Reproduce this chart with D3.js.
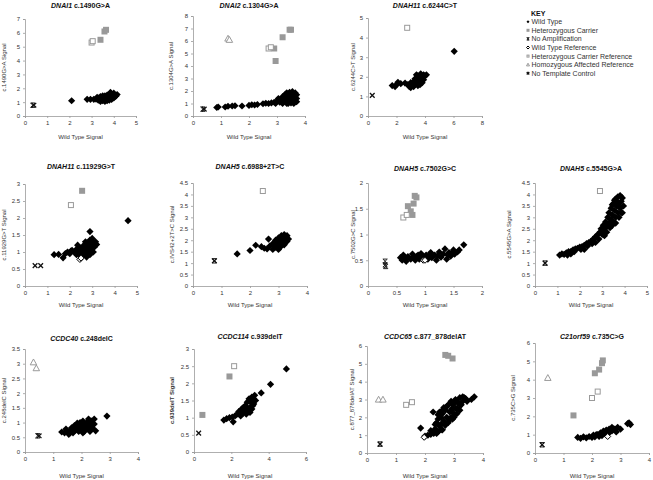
<!DOCTYPE html>
<html>
<head>
<meta charset="utf-8">
<script src="https://cdn.jsdelivr.net/npm/d3@7"></script>
<style>
  body { margin: 0; background: #fff; }
  svg { font-family: "Liberation Sans", Arial, sans-serif; }
</style>
</head>
<body>
<div id="chart"></div>
<script>

// ---- tick values ----
var ticks_0_5 = [0, 1, 2, 3, 4, 5];
var ticks_0_4 = [0, 1, 2, 3, 4];
var ticks_0_8_by2 = [0, 2, 4, 6, 8];
var ticks_0_6_by2 = [0, 2, 4, 6];
var ticks_0_2_half = [0, 0.5, 1, 1.5, 2];
var ticks_0_3_half = [0, 0.5, 1, 1.5, 2, 2.5, 3];
var ticks_0_35_half = [0, 0.5, 1, 1.5, 2, 2.5, 3, 3.5];
var ticks_0_45_half = [0, 0.5, 1, 1.5, 2, 2.5, 3, 3.5, 4, 4.5];
var ticks_0_6 = [0, 1, 2, 3, 4, 5, 6];
var ticks_0_7 = [0, 1, 2, 3, 4, 5, 6, 7];
var ticks_0_8 = [0, 1, 2, 3, 4, 5, 6, 7, 8];

var legend_labels = ['Wild Type', 'Heterozygous Carrier', 'No Amplification', 'Wild Type Reference',
                     'Heterozygous Carrier Reference', 'Homozygous Affected Reference', 'No Template Control'];
var legend_keys = ['wt', 'het', 'noAmp', 'wtRef', 'hetRef', 'homRef', 'ntc'];

// ---- DNAI1 c.1490G>A ----
var dnai1_wt = [[2.1,1.1],[2.8,1.2],[2.95,1.2],[3.1,1.2],[3.2,1.22],[3.3,1.15],[3.3,1.3],[3.4,1.05],[3.4,1.25],[3.4,1.4],
  [3.5,1.1],[3.5,1.3],[3.5,1.45],[3.6,1.05],[3.6,1.25],[3.6,1.45],[3.7,1.1],[3.7,1.3],[3.7,1.5],[3.8,1.15],[3.8,1.35],
  [3.8,1.55],[3.85,1.7],[3.9,1.2],[3.9,1.4],[3.9,1.6],[4.0,1.3],[4.0,1.5],[4.0,1.65],[4.1,1.45],[4.15,1.55],
  [3.45,1.35],[3.55,1.2],[3.65,1.38],[3.75,1.22],[3.75,1.45],[3.95,1.3],[3.95,1.5],[4.05,1.4],[3.25,1.35],[3.35,1.2]];
var dnai1_het = [[3.4,5.5],[3.58,6.1],[3.65,6.22]];
var dnai1_hetRef = [[3.0,5.3],[3.05,5.4]];
var dnai1_noAmp = [[0.35,0.78]];
var dnai1_ntc = [[0.4,0.78]];

// ---- DNAI2 c.1304G>A ----
var dnai2_wt = [[0.85,0.68],[0.9,0.72],[1.15,0.72],[1.25,0.78],[1.4,0.8],[1.5,0.82],[1.75,0.8],[2.0,0.85],[2.1,0.9],
  [2.2,0.88],[2.3,0.92],[2.5,0.98],[2.6,1.02],[2.7,1.0],[2.8,1.05],[2.9,1.1],[2.95,1.0],[3.0,1.2],[3.05,1.4],[3.1,1.1],
  [3.15,1.3],[3.2,1.55],[3.2,1.0],[3.25,1.2],[3.3,1.4],[3.3,1.75],[3.35,1.0],[3.4,1.2],[3.4,1.6],[3.45,1.9],[3.5,1.05],
  [3.5,1.4],[3.55,1.7],[3.55,1.95],[3.6,1.2],[3.6,1.5],[3.65,1.85],[3.7,1.4],[3.7,1.7],
  [3.25,1.55],[3.35,1.85],[3.45,1.35],[3.45,1.65],[3.6,1.0],[3.65,1.6],[3.7,1.15],[3.4,1.0]];
var dnai2_het = [[2.9,5.4],[2.95,4.4],[3.2,6.3],[3.45,6.9],[3.5,6.9]];
var dnai2_hetRef = [[2.7,5.4],[2.78,5.5]];
var dnai2_homRef = [[1.25,6.2],[1.3,6.1]];
var dnai2_noAmp = [[0.35,0.55]];
var dnai2_ntc = [[0.4,0.55]];

// ---- DNAH11 c.6244C>T ----
var dnah11a_wt = [[1.7,1.55],[1.9,1.5],[2.0,1.6],[2.1,1.72],[2.3,1.65],[2.6,1.68],[2.8,1.6],[2.9,1.5],[3.0,1.45],
  [3.0,1.7],[3.1,1.55],[3.2,1.75],[3.2,1.5],[3.3,1.9],[3.3,1.6],[3.4,2.1],[3.4,1.7],[3.5,1.55],[3.5,1.85],[3.6,2.0],
  [3.6,1.7],[3.7,2.15],[3.7,1.85],[3.8,1.95],[3.8,1.7],[3.9,2.1],[4.0,2.05],[4.1,2.1],[6.05,3.3],
  [3.5,2.05],[3.65,1.6],[3.9,1.85],[3.35,1.8],[3.75,2.05]];
var dnah11a_hetRef = [[2.75,4.5]];
var dnah11a_ntc = [[0.3,1.05]];

// ---- DNAH11 c.11929G>T ----
var dnah11b_wt = [[1.3,0.92],[1.5,0.93],[1.7,0.83],[1.8,0.95],[1.9,1.0],[2.0,0.95],[2.05,1.03],[2.1,1.05],[2.2,1.0],
  [2.3,0.92],[2.3,1.08],[2.35,1.2],[2.4,1.0],[2.45,1.12],[2.5,0.88],[2.55,1.05],[2.55,0.95],[2.6,1.18],[2.65,0.95],
  [2.7,1.1],[2.7,1.3],[2.75,0.85],[2.8,1.25],[2.8,1.0],[2.85,1.15],[2.9,1.35],[2.9,0.92],[2.95,1.08],[3.0,1.25],
  [3.0,1.4],[3.05,1.0],[3.1,1.15],[3.15,1.3],[3.2,1.22],[2.9,1.6],[4.6,1.92],
  [2.6,1.05],[2.75,1.2],[2.95,1.2],[3.05,1.3],[2.85,0.95],[2.4,1.12]];
var dnah11b_wtRef = [[2.45,0.78],[2.5,0.82]];
var dnah11b_het = [[2.55,2.8]];
var dnah11b_hetRef = [[2.05,2.38]];
var dnah11b_ntc = [[0.45,0.6],[0.7,0.6]];

// ---- DNAH5 c.6988+2T>C ----
var dnah5a_wt = [[1.55,1.4],[2.0,1.55],[2.2,1.78],[2.4,1.72],[2.5,1.65],[2.6,1.62],[2.65,2.05],[2.7,1.75],[2.8,1.6],
  [2.8,1.85],[2.9,1.7],[2.9,2.0],[3.0,1.6],[3.0,1.85],[3.0,2.1],[3.1,1.75],[3.1,2.0],[3.1,2.2],[3.2,1.8],[3.2,2.05],
  [3.2,2.25],[3.3,1.95],[3.3,2.2],[3.35,2.05],[2.95,1.95],[3.05,1.7],[3.15,1.9],[3.25,2.15],[2.85,1.75]];
var dnah5a_hetRef = [[2.45,4.15]];
var dnah5a_noAmp = [[0.75,1.1]];
var dnah5a_ntc = [[0.75,1.1]];

// ---- DNAH5 c.7502G>C ----
var dnah5b_wt = [[0.57,0.55],[0.6,0.5],[0.62,0.6],[0.67,0.48],[0.7,0.57],[0.75,0.52],[0.78,0.62],[0.83,0.5],[0.86,0.58],
  [0.9,0.52],[0.93,0.63],[0.97,0.57],[1.02,0.6],[1.05,0.52],[1.1,0.65],[1.12,0.55],[1.17,0.6],[1.2,0.5],[1.25,0.66],
  [1.28,0.56],[1.32,0.62],[1.35,0.72],[1.38,0.52],[1.42,0.65],[1.45,0.58],[1.5,0.7],[1.52,0.62],[1.57,0.66],[1.6,0.7],
  [1.68,0.8],[0.65,0.55],[0.8,0.56],[0.88,0.6],[1.07,0.58],[1.22,0.58],[1.4,0.6],[1.48,0.65]];
var dnah5b_wtRef = [[0.97,0.5],[1.0,0.5]];
var dnah5b_het = [[0.7,1.55],[0.75,1.45],[0.78,1.38],[0.8,1.6],[0.82,1.75],[0.85,1.72]];
var dnah5b_hetRef = [[0.62,1.33],[0.68,1.38]];
var dnah5b_noAmp = [[0.3,0.48],[0.3,0.41],[0.31,0.38]];

// ---- DNAH5 c.5545G>A ----
var dnah5c_wt = [[1.1,1.35],[1.2,1.4],[1.3,1.38],[1.4,1.45],[1.5,1.5],[1.6,1.5],[1.6,1.4],[1.7,1.58],[1.8,1.62],
  [1.9,1.65],[2.0,1.7],[2.1,1.72],[2.2,1.78],[2.2,1.6],[2.3,1.85],[2.4,1.9],[2.5,1.95],[2.6,2.05],[2.7,2.15],
  [2.7,1.9],[2.8,2.25],[2.9,2.35],[2.95,2.5],[3.0,2.4],[3.05,2.65],[3.1,2.5],[3.1,2.2],[3.15,2.8],[3.2,2.6],
  [3.25,3.0],[3.3,2.75],[3.3,3.2],[3.4,2.9],[3.4,3.4],[3.45,3.1],[3.5,3.6],[3.5,2.8],[3.55,3.3],[3.6,3.8],[3.6,3.0],
  [3.65,3.5],[3.7,3.9],[3.7,3.2],[3.75,3.6],[3.8,3.95],[3.8,3.4],[3.85,3.7],[3.9,3.85],[3.95,3.5],[3.9,3.2],
  [1.45,1.35],[1.75,1.5],[2.05,1.6],[2.35,1.75],[2.55,1.85],[2.85,2.05],[3.0,2.25],[3.2,2.35],[3.35,2.55],
  [3.45,2.65],[3.6,2.75],[3.75,3.0],[3.85,3.2],[3.65,3.7],[3.55,3.75],[3.45,3.55]];
var dnah5c_hetRef = [[2.9,4.15]];
var dnah5c_noAmp = [[0.45,1.0]];
var dnah5c_ntc = [[0.45,1.0]];

// ---- CCDC40 c.248delC ----
var ccdc40_wt = [[1.3,0.68],[1.4,0.65],[1.45,0.78],[1.5,0.68],[1.55,0.6],[1.6,0.72],[1.65,0.82],[1.7,0.65],[1.75,0.9],
  [1.8,0.75],[1.85,0.98],[1.9,0.7],[1.9,0.85],[2.0,0.78],[2.0,0.95],[2.05,1.05],[2.1,0.7],[2.1,0.88],[2.2,0.8],
  [2.2,1.0],[2.25,1.12],[2.3,0.7],[2.3,0.9],[2.35,1.05],[2.4,0.8],[2.45,0.95],[2.45,1.12],[2.5,0.72],[2.9,1.22],
  [1.75,0.72],[1.95,1.0],[2.15,0.95],[2.35,0.78],[2.05,0.65],[1.6,0.65]];
var ccdc40_homRef = [[0.3,3.05],[0.4,2.85]];
var ccdc40_noAmp = [[0.45,0.55]];
var ccdc40_ntc = [[0.5,0.55]];

// ---- CCDC114 c.939delT ----
var ccdc114_wt = [[1.6,0.93],[1.75,0.97],[1.9,1.0],[2.05,1.02],[2.1,0.88],[2.3,1.1],[2.4,1.18],[2.5,1.05],[2.55,1.25],
  [2.6,1.12],[2.7,1.2],[2.75,1.35],[2.8,1.1],[2.85,1.45],[2.9,1.25],[2.95,1.55],[3.0,1.3],[3.0,1.15],[3.05,1.45],
  [3.1,1.6],[3.1,1.25],[3.2,1.4],[3.2,1.55],[3.25,1.65],[3.3,1.5],[3.6,1.72],[4.1,1.97],[4.95,2.42],
  [2.65,1.3],[2.85,1.2],[3.0,1.5],[3.15,1.35],[2.2,1.05]];
var ccdc114_het = [[0.45,1.08],[1.9,2.2]];
var ccdc114_hetRef = [[2.15,2.5]];
var ccdc114_ntc = [[0.25,0.55]];

// ---- CCDC65 c.877_878delAT ----
var ccdc65_wt = [[1.85,1.4],[2.0,0.95],[2.1,1.0],[2.2,1.05],[2.28,2.3],[2.3,1.1],[2.35,1.35],[2.4,1.7],[2.45,1.2],
  [2.5,2.3],[2.5,1.5],[2.55,2.0],[2.6,1.3],[2.65,1.8],[2.7,2.4],[2.8,2.7],[2.8,1.7],[2.85,2.3],[2.9,2.0],[2.9,2.9],
  [2.95,2.5],[3.0,2.2],[3.0,2.8],[3.05,3.0],[3.1,2.5],[3.15,2.8],[3.2,3.1],[3.2,2.4],[3.3,2.9],[3.35,3.1],[3.45,2.9],
  [3.6,3.0],[3.7,3.15],[2.6,2.2],[2.75,2.0],[2.95,2.7],[3.1,2.9],[3.1,2.2],[3.25,2.7],[2.7,1.55],[2.85,1.85],
  [3.0,2.0],[2.55,1.6],[2.4,1.1],[2.65,2.55],[3.4,3.05],[2.45,1.9],[2.6,2.4],[2.35,1.6],[2.55,1.3],[2.75,2.6],
  [2.9,2.4],[3.05,2.5],[3.2,2.7],[3.3,3.15],[2.95,1.9],[2.2,1.25],[2.45,2.15]];
var ccdc65_wtRef = [[1.97,0.88]];
var ccdc65_het = [[2.7,5.5],[2.8,5.45],[2.95,5.3]];
var ccdc65_hetRef = [[1.35,2.7],[1.55,2.85]];
var ccdc65_homRef = [[0.4,3.0],[0.55,3.0]];
var ccdc65_noAmp = [[0.45,0.5]];
var ccdc65_ntc = [[0.45,0.5]];

// ---- C21orf59 c.735C>G ----
var c21_wt = [[1.5,0.85],[1.6,0.8],[1.7,0.88],[1.8,0.82],[1.9,0.9],[2.0,0.85],[2.05,0.98],[2.1,0.88],[2.2,1.0],
  [2.25,0.9],[2.3,1.1],[2.35,0.95],[2.4,1.2],[2.45,1.05],[2.5,1.25],[2.6,1.1],[2.6,1.3],[2.7,1.2],[2.7,1.4],
  [2.8,1.3],[2.85,1.15],[2.9,1.4],[3.0,1.3],[3.25,1.6],[3.3,1.65],[3.35,1.55],[2.15,1.0],[2.55,1.15],[2.75,1.3]];
var c21_wtRef = [[2.55,0.9]];
var c21_het = [[1.35,2.05],[2.1,4.35],[2.25,4.55],[2.35,4.9],[2.38,5.05]];
var c21_hetRef = [[2.0,3.0],[2.2,3.35]];
var c21_homRef = [[0.45,4.1]];
var c21_noAmp = [[0.25,0.45]];
var c21_ntc = [[0.25,0.45]];

// ---- panel layout ----
var panels = [
  { gene: 'DNAI1', mut: ' c.1490G>A', ylab: 'c.1490G>A  Signal', box: [25, 136, 19, 116], xdom: [0, 5], xt: ticks_0_5, ydom: [0, 7], yt: ticks_0_7, ylx: 4, ty: 7.5, xly: 139,
    data: { wt: dnai1_wt, het: dnai1_het, hetRef: dnai1_hetRef, noAmp: dnai1_noAmp, ntc: dnai1_ntc } },
  { gene: 'DNAI2', mut: ' c.1304G>A', ylab: 'c.1304G>A Signal', box: [193, 305, 16, 116], xdom: [0, 4], xt: ticks_0_4, ydom: [0, 8], yt: ticks_0_8, ylx: 171, ty: 7.5, xly: 139,
    data: { wt: dnai2_wt, het: dnai2_het, hetRef: dnai2_hetRef, homRef: dnai2_homRef, noAmp: dnai2_noAmp, ntc: dnai2_ntc } },
  { gene: 'DNAH11', mut: ' c.6244C>T', ylab: 'c.6244C>T  Signal', box: [368, 482, 18, 116], xdom: [0, 8], xt: ticks_0_8_by2, ydom: [0, 5], yt: ticks_0_5, ylx: 353, ty: 7.5, xly: 139,
    data: { wt: dnah11a_wt, hetRef: dnah11a_hetRef, ntc: dnah11a_ntc } },
  { gene: 'DNAH11', mut: ' c.11929G>T', ylab: 'c.11929G>T Signal', box: [25, 137, 184, 286], xdom: [0, 5], xt: ticks_0_5, ydom: [0, 3], yt: ticks_0_3_half, ylx: 4, ty: 168.5, xly: 307,
    data: { wt: dnah11b_wt, wtRef: dnah11b_wtRef, het: dnah11b_het, hetRef: dnah11b_hetRef, ntc: dnah11b_ntc } },
  { gene: 'DNAH5', mut: ' c.6988+2T>C', ylab: 'c.IVS42+2T>C Signal', box: [193, 307, 183, 286], xdom: [0, 4], xt: ticks_0_4, ydom: [0, 4.5], yt: ticks_0_45_half, ylx: 172, ty: 168.5, xly: 307,
    data: { wt: dnah5a_wt, hetRef: dnah5a_hetRef, noAmp: dnah5a_noAmp, ntc: dnah5a_ntc } },
  { gene: 'DNAH5', mut: ' c.7502G>C', ylab: 'c.7502G>C Signal', box: [368, 482, 183, 286], xdom: [0, 2], xt: ticks_0_2_half, ydom: [0, 2], yt: ticks_0_2_half, ylx: 353, ty: 170.5, xly: 307,
    data: { wt: dnah5b_wt, wtRef: dnah5b_wtRef, het: dnah5b_het, hetRef: dnah5b_hetRef, noAmp: dnah5b_noAmp } },
  { gene: 'DNAH5', mut: ' c.5545G>A', ylab: 'c.5545G>A Signal', box: [535, 647, 183, 286], xdom: [0, 5], xt: ticks_0_5, ydom: [0, 4.5], yt: ticks_0_45_half, ylx: 509, ty: 170.5, xly: 307,
    data: { wt: dnah5c_wt, hetRef: dnah5c_hetRef, noAmp: dnah5c_noAmp, ntc: dnah5c_ntc } },
  { gene: 'CCDC40', mut: ' c.248delC', ylab: 'c.248delC Signal', box: [25, 138, 349, 452], xdom: [0, 4], xt: ticks_0_4, ydom: [0, 3.5], yt: ticks_0_35_half, ylx: 4, ty: 340.5, xly: 478,
    data: { wt: ccdc40_wt, homRef: ccdc40_homRef, noAmp: ccdc40_noAmp, ntc: ccdc40_ntc } },
  { gene: 'CCDC114', mut: ' c.939delT', ylab: 'c.939delT Signal', box: [194, 306, 349, 452], xdom: [0, 6], xt: ticks_0_6_by2, ydom: [0, 3], yt: ticks_0_3_half, ylx: 172, ty: 338.5, xly: 478, boldYlab: true,
    data: { wt: ccdc114_wt, het: ccdc114_het, hetRef: ccdc114_hetRef, ntc: ccdc114_ntc } },
  { gene: 'CCDC65', mut: ' c.877_878delAT', ylab: 'c.877_878delAT Signal', box: [367, 483, 346, 453], xdom: [0, 4], xt: ticks_0_4, ydom: [0, 6], yt: ticks_0_6, ylx: 352, ty: 338.5, xly: 478,
    data: { wt: ccdc65_wt, wtRef: ccdc65_wtRef, het: ccdc65_het, hetRef: ccdc65_hetRef, homRef: ccdc65_homRef, noAmp: ccdc65_noAmp, ntc: ccdc65_ntc } },
  { gene: 'C21orf59', mut: ' c.735C>G', ylab: 'c.735C>G Signal', box: [535, 649, 343, 453], xdom: [0, 4], xt: ticks_0_4, ydom: [0, 6], yt: ticks_0_6, ylx: 513, ty: 338.5, xly: 478,
    data: { wt: c21_wt, wtRef: c21_wtRef, het: c21_het, hetRef: c21_hetRef, homRef: c21_homRef, noAmp: c21_noAmp, ntc: c21_ntc } }
];

var w = 653;
var h = 480;
var AXIS_COL = '#9a9a9a';
var TEXT_COL = '#333';
var REF_COL = '#9a9a9a';

var svg = d3.select('#chart')
            .append('svg')
            .attr('width', w)
            .attr('height', h);

// draws one marker of the given kind into g, size s
function draw_marker(g, kind, s) {
    var r = s / 2;
    if (kind == 'wt') {
        g.append('path').attr('d', 'M0,' + (-r) + 'L' + r + ',0L0,' + r + 'L' + (-r) + ',0Z').attr('fill', '#000');
    }
    if (kind == 'wtRef') {
        g.append('path').attr('d', 'M0,' + (-r) + 'L' + r + ',0L0,' + r + 'L' + (-r) + ',0Z')
            .attr('fill', '#fff').attr('stroke', '#000').attr('stroke-width', 1);
    }
    if (kind == 'het') {
        g.append('rect').attr('x', -r).attr('y', -r).attr('width', s).attr('height', s).attr('fill', '#999');
    }
    if (kind == 'hetRef') {
        g.append('rect').attr('x', -r + 0.5).attr('y', -r + 0.5).attr('width', s - 1).attr('height', s - 1)
            .attr('fill', '#fff').attr('stroke', REF_COL).attr('stroke-width', 1);
    }
    if (kind == 'homRef') {
        g.append('path').attr('d', 'M0,' + (-r) + 'L' + r + ',' + (r * 0.8) + 'L' + (-r) + ',' + (r * 0.8) + 'Z')
            .attr('fill', '#fff').attr('stroke', REF_COL).attr('stroke-width', 1);
    }
    if (kind == 'noAmp') {
        var a = r * 0.8;
        g.append('path').attr('d', 'M' + (-a) + ',' + (-a) + 'L' + a + ',' + a + 'M' + a + ',' + (-a) + 'L' + (-a) + ',' + a +
                              'M' + (-a) + ',' + (-a) + 'L' + a + ',' + (-a) + 'M' + (-a) + ',' + a + 'L' + a + ',' + a)
            .attr('stroke', '#222').attr('stroke-width', 1).attr('fill', 'none');
    }
    if (kind == 'ntc') {
        var b = r * 0.85;
        g.append('path').attr('d', 'M' + (-b) + ',' + (-b) + 'L' + b + ',' + b + 'M' + b + ',' + (-b) + 'L' + (-b) + ',' + b)
            .attr('stroke', '#111').attr('stroke-width', 1.3).attr('fill', 'none');
    }
}

var draw_order = ['wt', 'wtRef', 'het', 'hetRef', 'homRef', 'noAmp', 'ntc'];
var marker_size = { wt: 7.2, wtRef: 6, het: 6, hetRef: 6, homRef: 6.5, noAmp: 5.5, ntc: 5.5 };

panels.forEach(function(p) {

    var xScale = d3.scaleLinear().domain(p.xdom).range([p.box[0], p.box[1]]);
    var yScale = d3.scaleLinear().domain(p.ydom).range([p.box[3], p.box[2]]);

    var xAxis = d3.axisBottom(xScale).tickValues(p.xt).tickSize(2).tickPadding(3).tickFormat(function(d) { return String(d); });
    var yAxis = d3.axisLeft(yScale).tickValues(p.yt).tickSize(2).tickPadding(3).tickFormat(function(d) { return String(d); });

    var gx = svg.append('g')
        .attr('transform', 'translate(0,' + p.box[3] + ')')
        .call(xAxis);
    var gy = svg.append('g')
        .attr('transform', 'translate(' + p.box[0] + ',0)')
        .call(yAxis);

    [gx, gy].forEach(function(g) {
        g.select('.domain').attr('stroke', AXIS_COL).attr('stroke-width', 0.8);
        g.selectAll('.tick line').attr('stroke', AXIS_COL).attr('stroke-width', 0.8);
        g.selectAll('.tick text').attr('fill', TEXT_COL).attr('font-size', 6).attr('font-family', '"Liberation Sans", Arial, sans-serif');
    });

    // points
    draw_order.forEach(function(kind) {
        var pts = p.data[kind];
        if (!pts) return;
        pts.forEach(function(d) {
            var g = svg.append('g').attr('transform', 'translate(' + xScale(d[0]) + ',' + yScale(d[1]) + ')');
            draw_marker(g, kind, marker_size[kind]);
        });
    });

    // title
    var cx = (p.box[0] + p.box[1]) / 2;
    var t = svg.append('text')
        .attr('x', cx)
        .attr('y', p.ty)
        .attr('text-anchor', 'middle')
        .attr('font-size', 7)
        .attr('font-weight', 'bold')
        .attr('fill', '#111');
    t.append('tspan').attr('font-style', 'italic').text(p.gene);
    t.append('tspan').text(p.mut);

    // x label
    svg.append('text')
        .attr('x', cx)
        .attr('y', p.xly)
        .attr('text-anchor', 'middle')
        .attr('font-size', 6)
        .attr('fill', TEXT_COL)
        .text('Wild Type Signal');

    // y label
    var cy = (p.box[2] + p.box[3]) / 2;
    svg.append('text')
        .attr('transform', 'translate(' + (p.ylx + 2) + ',' + cy + ') rotate(-90)')
        .attr('text-anchor', 'middle')
        .attr('font-size', 6)
        .attr('font-weight', p.boldYlab ? 'bold' : 'normal')
        .attr('fill', TEXT_COL)
        .text(p.ylab);
});

// legend
var lg = svg.append('g');
lg.append('text')
    .attr('x', 531)
    .attr('y', 16)
    .attr('font-size', 7)
    .attr('font-weight', 'bold')
    .attr('fill', '#111')
    .text('KEY');

legend_labels.forEach(function(label, i) {
    var yy = 21.7 + i * 8.6;
    var g = lg.append('g').attr('transform', 'translate(528,' + yy + ')');
    draw_marker(g, legend_keys[i], 3);
    lg.append('text')
        .attr('x', 531.5)
        .attr('y', yy + 2.4)
        .attr('font-size', 7)
        .attr('fill', TEXT_COL)
        .text(label);
});

</script>
</body>
</html>
